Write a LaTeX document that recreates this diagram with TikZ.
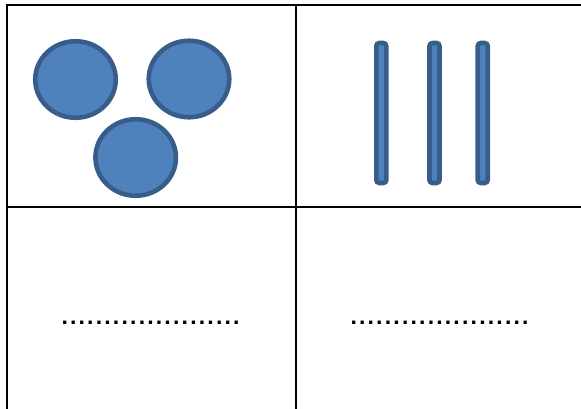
\documentclass[tikz,border=0pt]{standalone}
\usepackage{fontspec}
\usetikzlibrary{shapes.geometric}
\setmainfont{Liberation Sans}
\definecolor{fillblue}{HTML}{4F81BD}
\definecolor{edgeblue}{HTML}{385D8A}
\newcommand{\dotrow}{\makebox[178pt][s]{\fontsize{23}{23}\selectfont\bfseries .\hfill.\hfill.\hfill.\hfill.\hfill.\hfill.\hfill.\hfill.\hfill.\hfill.\hfill.\hfill.\hfill.\hfill.\hfill.\hfill.\hfill.\hfill.\hfill.\hfill.}}
\begin{document}
\begin{tikzpicture}[x=1pt,y=-1pt,
  gridline/.style={line width=2pt,black},
  ball/.style={ellipse,draw=edgeblue,fill=fillblue,line width=4.6pt,minimum width=80.5pt,minimum height=76.5pt,inner sep=0pt},
  stick/.style={rectangle,draw=edgeblue,fill=fillblue,line width=4.6pt,rounded corners=3pt,minimum width=10pt,minimum height=140pt,inner sep=0pt},
  blank/.style={inner sep=0pt,anchor=base}]
\useasboundingbox (0,0) rectangle (581,409);
% table
\coordinate (tl) at (7,5);
\coordinate (tr) at (582,5);
\coordinate (ml) at (7,207);
\coordinate (mr) at (582,207);
\coordinate (bl) at (7,410);
\coordinate (tm) at (296,5);
\coordinate (bm) at (296,410);
\draw[gridline] (tr) -- (tl) -- (bl);
\draw[gridline] (ml) -- (mr);
\draw[gridline] (tm) -- (bm);
% circles
\node[ball] (c1) at (75.5,79.5) {};
\node[ball] (c2) at (189,79) {};
\node[ball] (c3) at (135.7,157.5) {};
% sticks
\node[stick] (s1) at (381.3,113) {};
\node[stick] (s2) at (434.5,113) {};
\node[stick] (s3) at (482.7,113) {};
% dotted blanks
\node[blank] (d1) at (150.5,324) {\dotrow};
\node[blank] (d2) at (439.5,324) {\dotrow};
\end{tikzpicture}
\end{document}
